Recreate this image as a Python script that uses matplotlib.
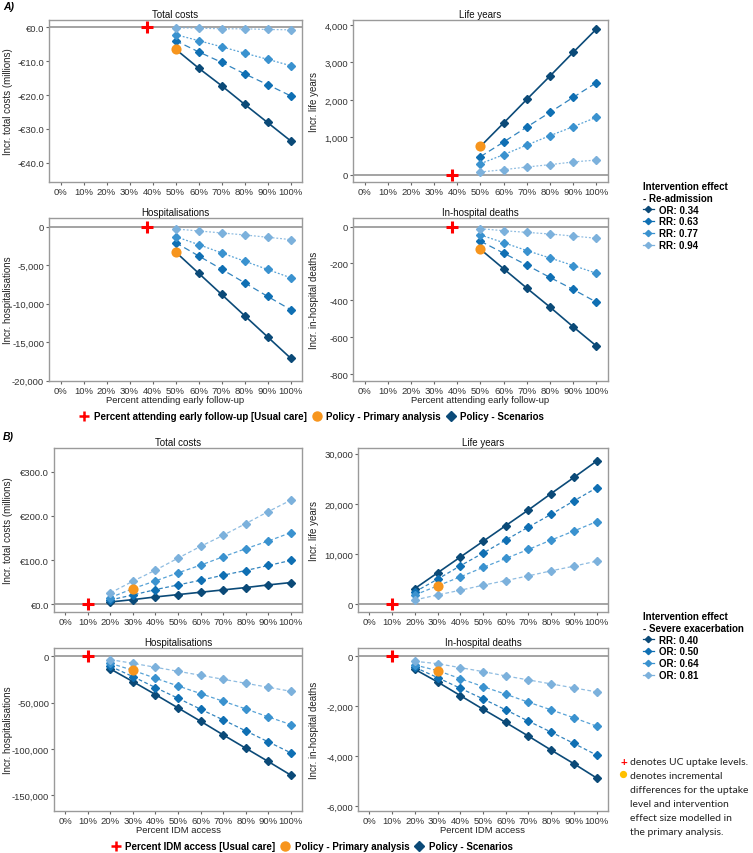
import matplotlib
matplotlib.use('Agg')
import matplotlib.pyplot as plt
from matplotlib.lines import Line2D

plt.rcParams['font.family'] = ['Liberation Sans', 'DejaVu Sans']

# ---- data: panel A (early follow-up) ----
a_x = [50, 60, 70, 80, 90, 100]
a_uc = 37.7
a_primary_x = 50
a_labels = ['OR: 0.34', 'RR: 0.63', 'RR: 0.77', 'RR: 0.94']

a_costs = [[-6.4, -12.0, -17.2, -22.7, -28.1, -33.5],
           [-3.9, -7.2, -10.3, -13.7, -16.9, -20.2],
           [-2.1, -3.9, -5.7, -7.6, -9.4, -11.3],
           [-0.1, -0.2, -0.4, -0.4, -0.6, -0.7]]
a_life = [[764, 1387, 2018, 2640, 3271, 3893],
          [489, 880, 1280, 1671, 2071, 2462],
          [302, 542, 800, 1049, 1289, 1538],
          [80, 142, 213, 276, 347, 400]]
a_hosp = [[-3276, -6034, -8793, -11552, -14310, -17069],
          [-2069, -3793, -5517, -7284, -9052, -10776],
          [-1293, -2328, -3405, -4483, -5560, -6638],
          [-302, -560, -819, -1078, -1379, -1681]]
a_deaths = [[-123, -229, -334, -437, -544, -648],
            [-79, -144, -209, -276, -341, -410],
            [-45, -87, -130, -170, -211, -253],
            [-11, -22, -31, -40, -51, -63]]

# ---- data: panel B (IDM access) ----
b_x = [20, 30, 40, 50, 60, 70, 80, 90, 100]
b_uc = 10
b_primary_x = 30
b_labels = ['RR: 0.40', 'OR: 0.50', 'OR: 0.64', 'OR: 0.81']

b_costs = [[5.3, 10.6, 16.7, 22.0, 27.3, 32.6, 37.9, 43.9, 49.2],
           [9.8, 21.2, 33.3, 43.9, 54.5, 65.9, 76.5, 87.9, 99.2],
           [15.2, 35.6, 53.0, 71.2, 88.6, 107.6, 125.8, 143.2, 162.1],
           [25.8, 52.3, 77.3, 104.5, 131.1, 156.1, 182.6, 209.8, 235.6]]
b_life = [[3133, 6267, 9400, 12533, 15667, 18800, 22067, 25267, 28533],
          [2467, 5000, 7667, 10200, 12800, 15400, 17933, 20600, 23200],
          [1867, 3667, 5467, 7333, 9133, 10933, 12800, 14600, 16467],
          [867, 1867, 2800, 3800, 4733, 5667, 6667, 7600, 8600]]
b_hosp = [[-13640, -27280, -41280, -55640, -70000, -84720, -99080, -113440, -128150],
          [-10770, -21900, -33740, -45230, -57070, -68560, -80400, -92250, -104100],
          [-7540, -15080, -23690, -31950, -40200, -48460, -56720, -65330, -73590],
          [-3590, -7540, -11850, -16150, -20460, -24770, -29080, -33390, -37700]]
b_deaths = [[-519, -1025, -1570, -2116, -2648, -3194, -3753, -4298, -4870],
            [-439, -852, -1278, -1703, -2142, -2595, -3034, -3487, -3953],
            [-346, -572, -892, -1211, -1517, -1836, -2142, -2461, -2794],
            [-200, -293, -452, -612, -785, -945, -1105, -1264, -1424]]

# ---- styling ----
W, H = 753, 854
colors = ['#0b4a78', '#0f6fb3', '#3a92cf', '#7cb1dc']
orange = '#f7951d'
a_styles = ['-', (0, (5, 3)), (0, (1.5, 1.5)), (0, (1.5, 1.5))]
b_styles = ['-', (0, (3, 2)), (0, (3, 2)), (0, (3, 2))]


def box(l, r, t, b):
    return [l / W, 1 - b / H, (r - l) / W, (b - t) / H]


def euro(v):
    return ('-' if v < 0 else '') + '€{:.1f}'.format(abs(v))


def comma(v):
    return '{:,}'.format(int(v))


def panel(pos, x, series, uc, px, pidx, styles, title, ylabel, ylim, yticks, fmt,
          xlabel=None, ylab_x=13):
    l, r, t, b = pos
    ax = fig.add_axes(box(l, r, t, b))
    ax.axhline(0, color='#8a8a8a', lw=1.1, zorder=1)
    for i, vals in enumerate(series):
        ax.plot(x, vals, color=colors[i], ls=styles[i], lw=1.2 if i == 0 else 0.9,
                alpha=1 if i == 0 else 0.85, zorder=2)
        ax.plot(x, vals, 'D', color=colors[i], ms=4.0, zorder=3)
    ax.plot(uc, 0, '+', color='#ff0000', ms=8.5, mew=2.2, zorder=5)
    ax.plot(px, series[pidx][x.index(px)], 'o', color=orange, ms=6.3, zorder=6)
    ax.set_xlim(-5, 105)
    ax.set_xticks(range(0, 101, 10))
    ax.set_xticklabels([f'{t}%' for t in range(0, 101, 10)])
    ax.set_ylim(*ylim)
    ax.set_yticks(yticks)
    ax.set_yticklabels([fmt(t) for t in yticks])
    ax.set_title(title, fontsize=7, pad=2, color='#111111')
    ax.set_ylabel(ylabel, fontsize=7, color='#222222')
    # label anchor is the right edge of the rotated text
    ax.yaxis.set_label_coords((ylab_x - l) / (r - l), 0.5)
    if xlabel:
        ax.set_xlabel(xlabel, fontsize=6.8, color='#222222', labelpad=0)
    for s in ax.spines.values():
        s.set_color('#9a9a9a')
        s.set_linewidth(1.0)
    ax.tick_params(length=2, color='#666666', labelsize=6.8, labelcolor='#333333', pad=1.5)
    return ax


fig = plt.figure(figsize=(W / 100, H / 100), dpi=100)

# panel A
panel((49, 302, 21, 183), a_x, a_costs, a_uc, a_primary_x, 0, a_styles, 'Total costs',
      'Incr. total costs (millions)', (-45.7, 2.2), [0, -10, -20, -30, -40], euro)
panel((353, 608, 21, 183), a_x, a_life, a_uc, a_primary_x, 0, a_styles, 'Life years',
      'Incr. life years', (-187, 4133), [0, 1000, 2000, 3000, 4000], comma, ylab_x=319)
panel((49, 302, 219, 382), a_x, a_hosp, a_uc, a_primary_x, 0, a_styles, 'Hospitalisations',
      'Incr. hospitalisations', (-20050, 1120), [0, -5000, -10000, -15000, -20000], comma,
      'Percent attending early follow-up')
panel((353, 608, 219, 382), a_x, a_deaths, a_uc, a_primary_x, 0, a_styles, 'In-hospital deaths',
      'Incr. in-hospital deaths', (-838, 47), [0, -200, -400, -600, -800], comma,
      'Percent attending early follow-up', ylab_x=319)

# panel B
panel((54, 302, 449, 613), b_x, b_costs, b_uc, b_primary_x, 2, b_styles, 'Total costs',
      'Incr. total costs (millions)', (-17.4, 353.8), [0, 100, 200, 300], euro)
panel((358, 608, 449, 613), b_x, b_life, b_uc, b_primary_x, 2, b_styles, 'Life years',
      'Incr. life years', (-1533, 31133), [0, 10000, 20000, 30000], comma, ylab_x=319)
panel((54, 302, 649, 812), b_x, b_hosp, b_uc, b_primary_x, 2, b_styles, 'Hospitalisations',
      'Incr. hospitalisations', (-166900, 8970), [0, -50000, -100000, -150000], comma,
      'Percent IDM access')
panel((358, 608, 649, 812), b_x, b_deaths, b_uc, b_primary_x, 2, b_styles, 'In-hospital deaths',
      'Incr. in-hospital deaths', (-6190, 333), [0, -2000, -4000, -6000], comma,
      'Percent IDM access', ylab_x=319)

fig.text(3 / W, 1 - 7 / H, 'A)', fontsize=7.5, fontweight='bold', style='italic', va='center')
fig.text(3 / W, 1 - 437 / H, 'B)', fontsize=7.5, fontweight='bold', style='italic', va='center')

# bottom legends
bold = {'weight': 'bold', 'size': 7}
for name, yc in [('Percent attending early follow-up [Usual care]', 417),
                 ('Percent IDM access [Usual care]', 847)]:
    handles = [Line2D([], [], ls='', marker='+', color='#ff0000', ms=7.5, mew=1.8),
               Line2D([], [], ls='', marker='o', color=orange, ms=6.5),
               Line2D([], [], ls='', marker='D', color=colors[0], ms=5)]
    fig.legend(handles, [name, 'Policy - Primary analysis', 'Policy - Scenarios'],
               loc='center', bbox_to_anchor=(311 / W, 1 - yc / H), ncol=3, frameon=False,
               prop=bold, handletextpad=0.3, columnspacing=0.4, handlelength=1.3,
               borderpad=0, borderaxespad=0)

# right legends
for labels, title, ytop in [(a_labels, 'Intervention effect\n- Re-admission', 182),
                            (b_labels, 'Intervention effect\n- Severe exacerbation', 612)]:
    handles = [Line2D([], [], color=c, marker='D', ms=3.2, lw=0.9) for c in colors]
    fig.legend(handles, labels, loc='upper left', bbox_to_anchor=(643 / W, 1 - ytop / H),
               frameon=False, prop=bold, title=title, title_fontproperties=bold,
               alignment='left', handlelength=1.1, handletextpad=0.5,
               labelspacing=0.2, borderpad=0, borderaxespad=0, handleheight=0.6)

# note text
note_font = ['Lato', 'DejaVu Sans']
fig.text(624 / W, 1 - 763 / H, '+', color='#ff0000', fontsize=8.5, fontweight='bold',
         ha='center', va='center', family=note_font)
fig.add_artist(Line2D([623 / W], [1 - 775 / H], marker='o', color='#ffc000', ms=4.2, ls=''))
lines = ['denotes UC uptake levels.', 'denotes incremental', 'differences for the uptake',
         'level and intervention', 'effect size modelled in', 'the primary analysis.']
for i, t in enumerate(lines):
    fig.text(630 / W, 1 - (763 + 14 * i) / H, t, fontsize=7.5, color='#222222',
             va='center', family=note_font)

fig.savefig('out.png', dpi=100)
